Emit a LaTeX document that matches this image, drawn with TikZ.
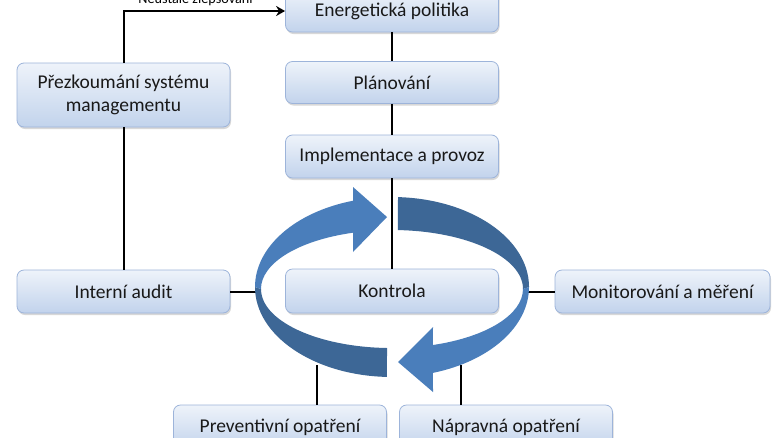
\documentclass[tikz,border=0pt]{standalone}
\usepackage{fontspec}
\setmainfont{Carlito}
\usetikzlibrary{arrows.meta,shadows}
\definecolor{boxtop}{HTML}{EEF3FA}
\definecolor{boxbot}{HTML}{C2D3EC}
\definecolor{boxline}{HTML}{9DB4DA}
\definecolor{arrlightc}{HTML}{4A7EBB}
\definecolor{arrdarkc}{HTML}{3D6796}
\tikzset{
  stepbox/.style={draw=boxline, line width=0.8pt, rounded corners=7pt,
    top color=boxtop, bottom color=boxbot, minimum width=213pt,
    inner sep=2pt, align=center, text=black!90,
    font=\fontsize{19.5}{23.5}\selectfont,
    drop shadow={shadow xshift=1pt, shadow yshift=-2pt, opacity=0.25, fill=black!60}},
  conn/.style={line width=2pt, black},
  arrlight/.style={fill=arrlightc},
  arrdark/.style={fill=arrdarkc},
}
\begin{document}
\begin{tikzpicture}[x=1pt,y=-1pt]
\useasboundingbox (0,0) rectangle (776,437);
\fill[white] (0,0) rectangle (776,437);
\clip (0,0) rectangle (776,437);

% boxes
\node[stepbox, minimum height=42pt] (ener) at (392,11) {Energetická politika};
\node[stepbox, minimum height=42pt] (plan) at (392,82.5) {Plánování};
\node[stepbox, minimum height=43pt] (impl) at (392,156.5) {Implementace a provoz};
\node[stepbox, minimum height=44pt] (kontrola) at (392,291) {Kontrola};
\node[stepbox, minimum height=64pt] (prez) at (123.5,95) {Přezkoumání systému\\managementu};
\node[stepbox, minimum height=43pt] (audit) at (123.5,291.5) {Interní audit};
\node[stepbox, minimum height=43pt, minimum width=215pt] (monit) at (662.5,291.5) {Monitorování a měření};
\node[stepbox, minimum height=44pt] (prev) at (280,427) {Preventivní opatření};
\node[stepbox, minimum height=44pt] (naprav) at (506,427) {Nápravná opatření};

\node[anchor=base, inner sep=0pt, font=\fontsize{14.2}{16}\selectfont] (lbl) at (195.5,3.5) {Neustálé zlepšování};

% ring attachment points
\coordinate (ringL) at (256,291.5);
\coordinate (ringR) at (528,291.5);
\coordinate (pt) at (317,365);
\coordinate (nt) at (461,365);

% connectors
\draw[conn] (ener.south) -- (plan.north);
\draw[conn] (plan.south) -- (impl.north);
\draw[conn] (impl.south) -- (kontrola.north);
\draw[conn, -{Stealth[length=9pt,width=10pt]}] (prez.north) |- (ener.west);
\draw[conn] (prez.south) -- (audit.north);
\draw[conn] (audit.east) -- (ringL);
\draw[conn] (ringR) -- (monit.west);
\draw[conn] (prev.north -| pt) -- (pt);
\draw[conn] (naprav.north -| nt) -- (nt);

% circular arrows
\fill[arrdark] (255,287) arc[start angle=180, end angle=92.1, x radius=137, y radius=90]
  -- (387,348) arc[start angle=92.2, end angle=180, x radius=131, y radius=59] -- cycle;
\fill[arrlight] (255,287) arc[start angle=180, end angle=253.5, x radius=137, y radius=90]
  -- (353,187) -- (387,217) -- (353,252) -- (353,232.7)
  arc[start angle=252.7, end angle=180, x radius=131, y radius=59] -- cycle;
\fill[arrdark] (398,197.1) arc[start angle=272.5, end angle=360, x radius=137, y radius=90]
  -- (523,289) arc[start angle=360, end angle=272.6, x radius=131, y radius=59] -- cycle;
\fill[arrlight] (529,287) arc[start angle=0, end angle=72.6, x radius=137, y radius=90]
  -- (433,392) -- (398,362) -- (433,327) -- (432.9,345.0)
  arc[start angle=71.8, end angle=0, x radius=131, y radius=59] -- cycle;
\end{tikzpicture}
\end{document}
